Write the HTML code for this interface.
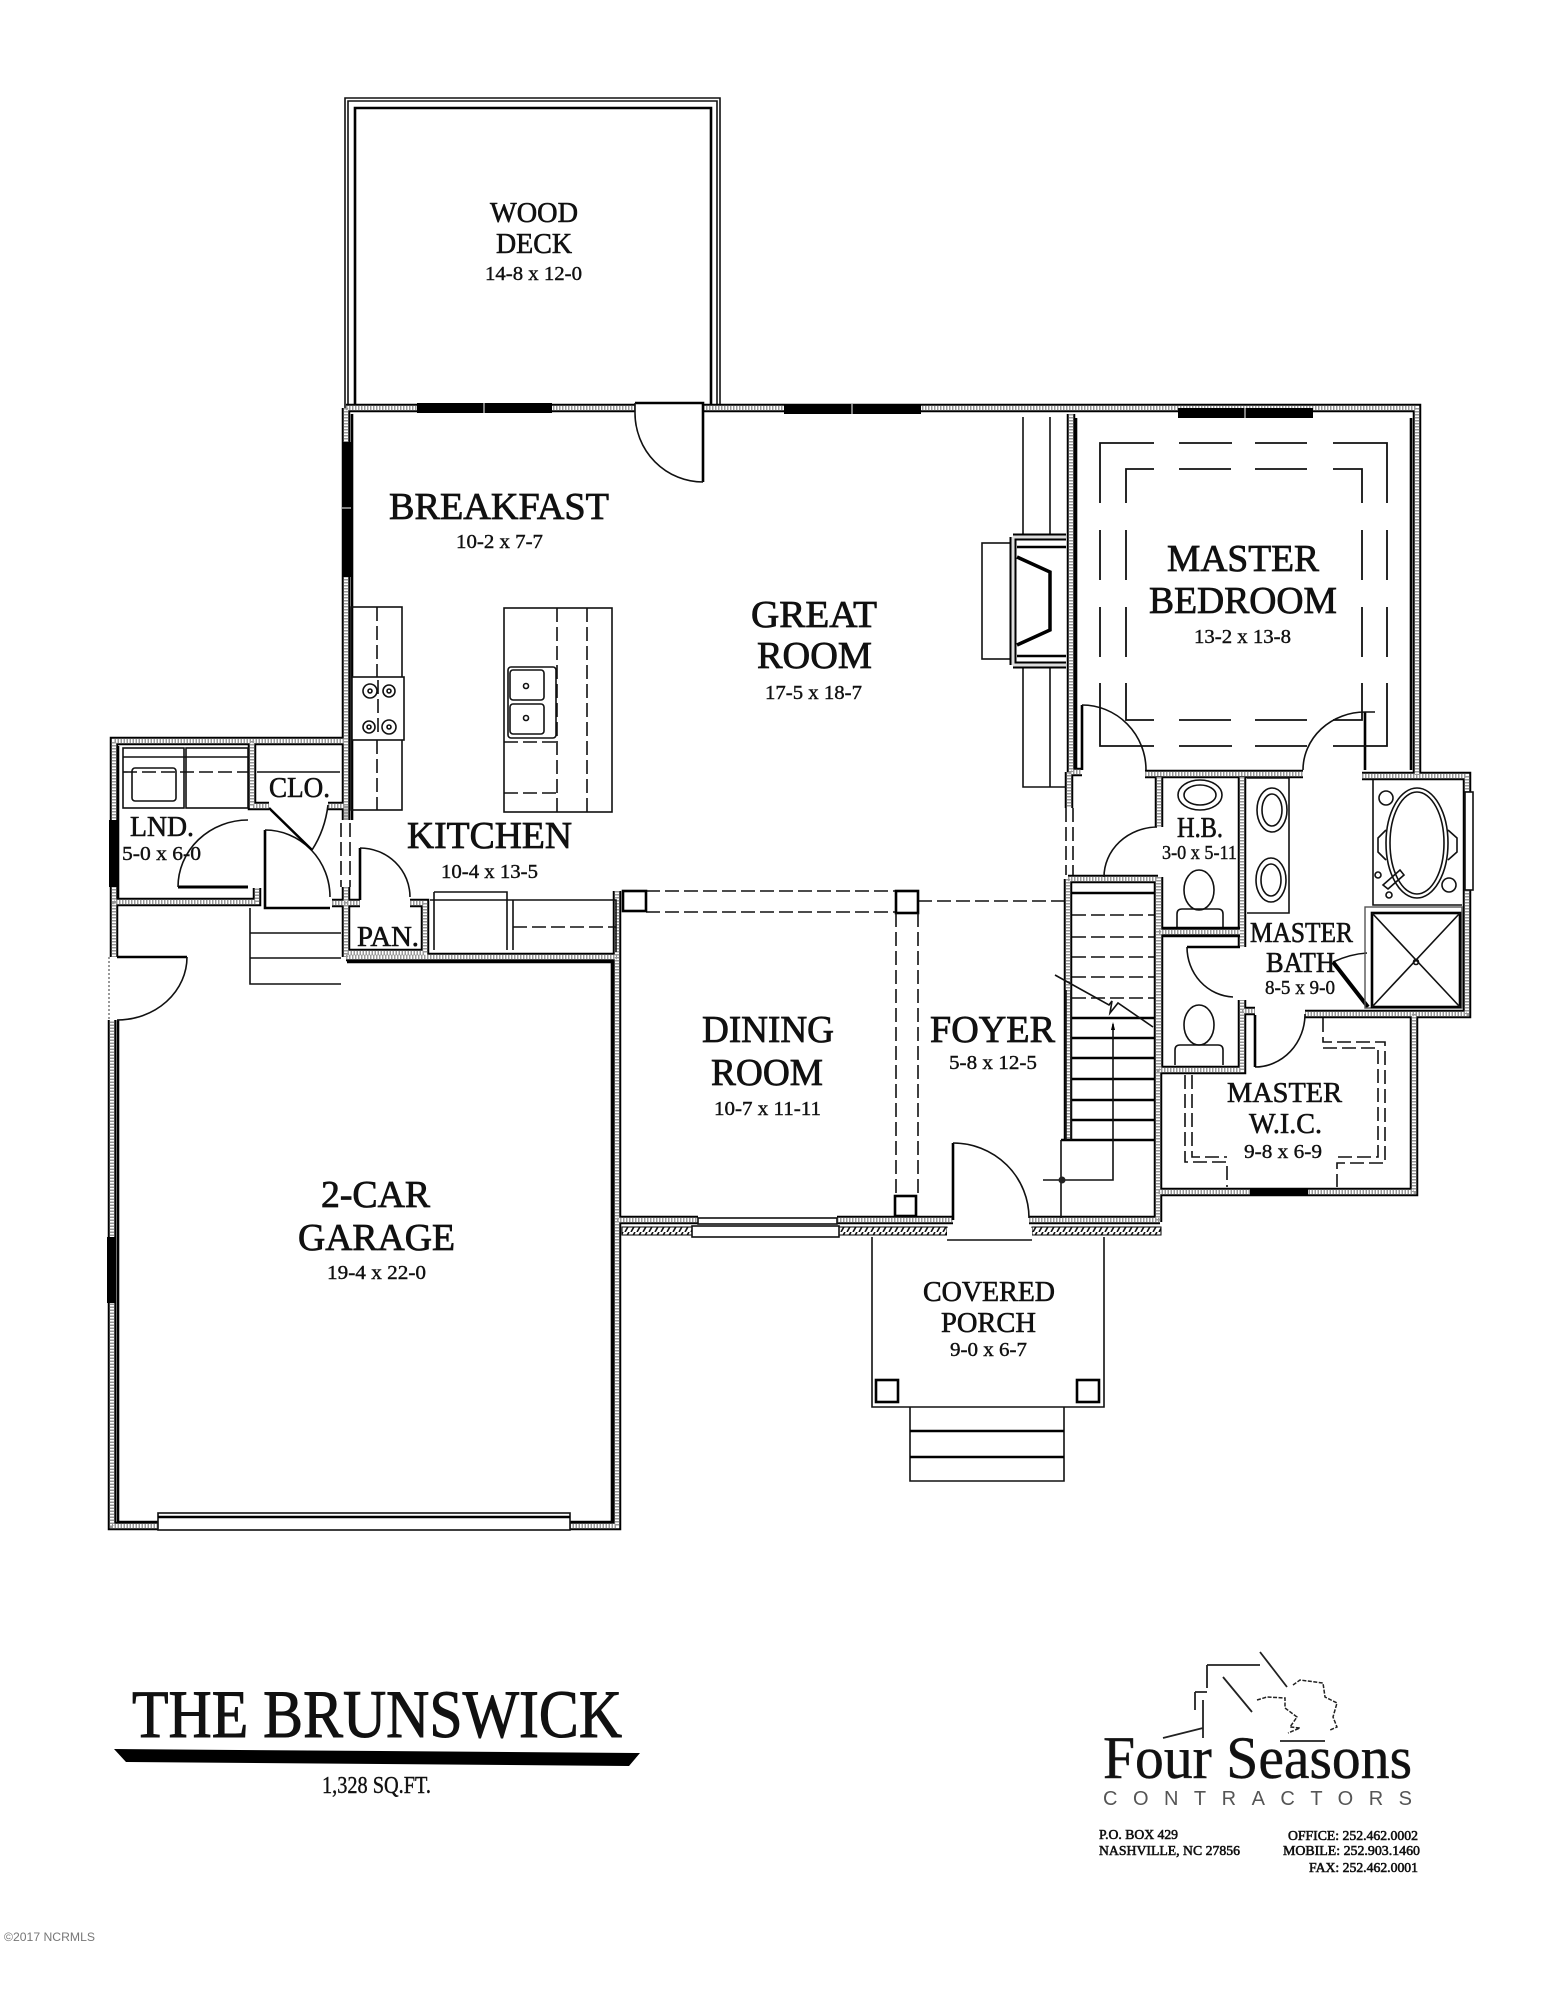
<!DOCTYPE html>
<html><head><meta charset="utf-8"><title>The Brunswick</title>
<style>
html,body{margin:0;padding:0;background:#fff}
svg{display:block}
text{font-family:"Liberation Serif",serif;fill:#111;font-weight:400}
.t{font-size:38px;stroke:#111;stroke-width:.8px}
.m{font-size:28px;stroke:#111;stroke-width:.6px}
.d{font-size:20px;stroke:#111;stroke-width:.4px}
.k{stroke:#000;fill:none;stroke-width:8.5}
.wh{stroke:#fff;fill:none;stroke-width:4.5}
.g{stroke:#999;fill:none;stroke-width:4.5;stroke-dasharray:1.5 1.5}
.th{stroke:#111;fill:none;stroke-width:1.6}
.th2{stroke:#000;fill:none;stroke-width:2.6}
.da{stroke:#111;fill:none;stroke-width:1.6;stroke-dasharray:14 5}
.tr{stroke:#111;fill:none;stroke-width:1.8}
.fb{fill:#fff;stroke:#111;stroke-width:1.6}
.thin{stroke:#333;fill:none;stroke-width:1}
</style></head><body>
<svg width="1546" height="1999" viewBox="0 0 1546 1999" xmlns="http://www.w3.org/2000/svg">
<defs>
<path id="w" d="M346 408H635M703 408H1417V775M1071 414V772H1082M1069 772V808M346 408V820M1145 774H1303M1362 776H1467V1014H1305M1414 1014V1192H1158M1158 877V1222M1068 879H1158M1068 879V1140M1159 777V827M1242 777V947M1159 932H1240M1159 877V1070H1242V1000M1242 1011H1255M344 741H114V902H257V888M252 741V806H269M328 806H346V820M332 903H360M346 887V957M114 902V957M346 957H617M410 903H425V953H346M617 891V1526H570M158 1526H112V1020M617 1220H698M837 1220H953M1029 1220H1160"/>
<pattern id="h" width="6" height="7" patternUnits="userSpaceOnUse"><path d="M5 0L1 7" stroke="#111" stroke-width="1.6"/></pattern>
</defs>

<!-- deck -->
<path d="M345 408V98H720V408" class="th"/>
<path d="M348 408V101H717V408" class="th"/>
<path d="M355 408V108H711V408" class="th2"/>

<!-- walls -->
<use href="#w" class="k"/>
<use href="#w" class="wh"/>
<use href="#w" class="g"/>

<!-- inner dark edges -->
<path d="M352 414V820M1076 418V768M1411 418V770M118 746V898M118 1020V1522H612V960M347 962H612" class="th2"/>

<!-- hatching at the front wall -->
<rect x="622" y="1227" width="72" height="8" fill="url(#h)" stroke="#000"/>
<rect x="839" y="1227" width="108" height="8" fill="url(#h)" stroke="#000"/>
<rect x="1032" y="1227" width="129" height="8" fill="url(#h)" stroke="#000"/>

<!-- windows -->
<rect x="417" y="403" width="135" height="10" fill="#000"/><path d="M484 403v10" stroke="#fff"/>
<rect x="784" y="404" width="137" height="10" fill="#000"/><path d="M852 404v10" stroke="#fff"/>
<rect x="1178" y="408" width="135" height="10" fill="#000"/><path d="M1245 408v10" stroke="#fff"/>
<rect x="342" y="442" width="9" height="135" fill="#000"/><path d="M342 508h9" stroke="#fff"/>
<rect x="109" y="820" width="8" height="67" fill="#000"/>
<rect x="107" y="1237" width="9" height="66" fill="#000"/>
<rect x="158" y="1513" width="412" height="17" class="fb"/><path d="M158 1517H570" class="th2"/>
<rect x="698" y="1218" width="139" height="6" class="fb"/><rect x="692" y="1226" width="147" height="11" class="fb"/>
<rect x="1250" y="1188" width="58" height="8" fill="#000"/>
<rect x="1465" y="792" width="8" height="98" class="fb"/>

<!-- doors -->
<path d="M635 403H703V482" class="th2"/><path d="M635 413V403" class="th"/><path d="M635 413A68 69 0 0 0 703 482" class="th"/>
<path d="M1082 705V770" class="th2"/><path d="M1082 705A64 65 0 0 1 1146 770" class="th"/>
<path d="M1365 712V770" class="th2"/><path d="M1375 712H1365A62 58 0 0 0 1303 770" class="th"/>
<path d="M1104 877A54 50 0 0 1 1157 827" class="th"/>
<path d="M1187 947H1240" class="th2"/><path d="M1187 947A48 50 0 0 0 1233 997" class="th"/>
<path d="M1305 1014A50 53 0 0 1 1255 1067" class="th"/><path d="M1255 1015V1067" class="th2"/>
<path d="M1333 962Q1350 954 1367 953" class="th"/><path d="M1333 962L1368 1007" stroke="#000" stroke-width="4"/>
<path d="M953 1143V1220" class="th2"/><path d="M953 1143A76 75 0 0 1 1029 1218" class="th"/>
<rect x="947" y="1228" width="85" height="12" fill="#fff" stroke="none"/><path d="M947 1240H1032" class="th"/>
<path d="M178 887H248" stroke="#000" stroke-width="3"/><path d="M178 887A70 67 0 0 1 248 820" class="th"/>
<path d="M265 830V908H330" class="th2"/><path d="M265 830A65 67 0 0 1 330 897" class="th"/>
<path d="M269 808L312 850" stroke="#000" stroke-width="2.5"/><path d="M312 850Q325 830 328 805" class="th"/>
<path d="M360 848V900" class="th2"/><path d="M360 848A50 49 0 0 1 410 897" class="th"/>
<path d="M117 957H187" class="th2"/><path d="M187 957A70 63 0 0 1 117 1020" class="th"/>
<path d="M109 957V1020" class="thin" stroke-dasharray="2 2"/>
<path d="M341 823V887M350 823V887M1066 808V875M1073 808V875" class="da"/>

<!-- laundry -->
<rect x="123" y="748" width="61" height="60" class="th"/><rect x="186" y="748" width="62" height="60" class="th"/>
<path d="M123 757H248" class="th"/><rect x="132" y="768" width="44" height="33" rx="3" class="th"/>
<path d="M123 772H248" class="da"/><path d="M257 772H340" class="th"/>
<path d="M250 908V984H341M250 933H341M250 958H341" class="th"/>

<!-- pantry + kitchen lower counter -->
<path d="M430 900H616V952M507 900V950M513 900V950" class="th"/><path d="M513 927H616" class="da"/>
<path d="M434 892H507V900M434 892V950" class="th"/>

<!-- kitchen upper counter -->
<rect x="351" y="607" width="51" height="203" class="th"/><path d="M377 607V810" class="da"/>
<rect x="352" y="677" width="52" height="63" class="fb"/><path d="M378 680V735" class="da"/>
<circle cx="370" cy="691" r="7" class="th"/><circle cx="389" cy="691" r="6" class="th"/><circle cx="369" cy="727" r="6" class="th"/><circle cx="389" cy="727" r="7" class="th"/>
<circle cx="370" cy="691" r="2" class="th"/><circle cx="389" cy="691" r="2" class="th"/><circle cx="369" cy="727" r="2" class="th"/><circle cx="389" cy="727" r="2" class="th"/>

<!-- island -->
<rect x="504" y="608" width="108" height="204" class="th"/>
<path d="M557 608V812M587 608V812" class="da"/>
<rect x="508" y="667" width="48" height="71" rx="3" class="th"/>
<rect x="510" y="670" width="34" height="30" rx="3" class="th"/><rect x="510" y="704" width="34" height="30" rx="3" class="th"/>
<circle cx="526" cy="686" r="2.5" class="th"/><circle cx="526" cy="718" r="2.5" class="th"/>
<path d="M504 742H557M504 793H557" class="da"/>

<!-- fireplace -->
<path d="M1023 417V537M1050 417V537M1023 665V787H1066M1050 665V787" class="th"/>
<rect x="982" y="543" width="31" height="116" class="th"/>
<path d="M1013 537H1066M1013 665H1066M1013 537V665" stroke="#000" stroke-width="7" fill="none"/>
<path d="M1013 537H1066M1013 665H1066M1013 537V665" stroke="#ddd" stroke-width="3" fill="none"/>
<path d="M1017 557L1050 572V630L1017 645" stroke="#000" stroke-width="3.5" fill="none"/>
<path d="M1017 547H1066M1017 656H1066" class="th2"/>

<!-- dining / foyer beam -->
<path d="M646 891H896M646 912H896M918 901H1064" class="da"/>
<rect x="623" y="891" width="23" height="20" class="th2"/>
<rect x="896" y="891" width="22" height="22" class="th2"/>
<path d="M896 913V1196M918 913V1196" class="da"/>
<rect x="895" y="1196" width="21" height="20" class="th2"/>

<!-- stairs -->
<path d="M1072 893H1154" class="th2"/>
<path d="M1072 915H1154M1072 937H1154M1072 957H1154M1072 977H1154M1072 998H1154" class="da"/>
<path d="M1071 1018H1154M1071 1038H1154M1071 1058H1154M1071 1079H1154M1071 1100H1154M1071 1120H1154M1061 1140H1154" class="th2"/>
<path d="M1066 990V1140M1071 990V1140" class="th"/>
<path d="M1061 1140V1218" class="th"/>
<path d="M1055 975L1109 1005L1112 1001L1110 1013L1118 1003L1153 1027" class="th"/>
<path d="M1113 1024V1180H1043" class="th"/><path d="M1113 1022l-2 8h4z" fill="#000"/><circle cx="1062" cy="1180" r="3.5" fill="#222"/>

<!-- half bath -->
<ellipse cx="1200" cy="795" rx="22" ry="15" class="th"/><ellipse cx="1200" cy="795" rx="16" ry="10" class="th"/>
<ellipse cx="1199" cy="890" rx="15" ry="20" class="th"/><path d="M1177 928V914Q1177 909 1182 909H1218Q1223 909 1223 914V928" class="th"/>
<path d="M1163 928H1240M1163 936H1240" class="th2"/>
<ellipse cx="1199" cy="1025" rx="15" ry="20" class="th"/><path d="M1175 1065V1050Q1175 1045 1180 1045H1218Q1223 1045 1223 1050V1065" class="th"/>

<!-- vanity -->
<path d="M1247 778H1289V913H1247" class="th"/>
<ellipse cx="1272" cy="810" rx="15" ry="22" class="th"/><ellipse cx="1272" cy="810" rx="10" ry="16" class="th"/>
<ellipse cx="1271" cy="880" rx="15" ry="22" class="th"/><ellipse cx="1271" cy="880" rx="10" ry="16" class="th"/>

<!-- tub -->
<path d="M1373 780V905H1462" class="th"/>
<ellipse cx="1417" cy="843" rx="31" ry="55" class="th"/><ellipse cx="1417" cy="843" rx="27" ry="51" class="th"/>
<circle cx="1386" cy="798" r="7" class="th"/><circle cx="1449" cy="885" r="7" class="th"/><circle cx="1378" cy="875" r="3" class="th"/><circle cx="1389" cy="895" r="3" class="th"/>
<path d="M1383 885L1400 870L1404 875L1388 889Z" class="th"/>
<path d="M1386 830L1378 838V852L1386 860M1448 830L1457 838V852L1448 860" class="th"/>

<!-- shower -->
<rect x="1365" y="907" width="97" height="101" fill="none" stroke="#555" stroke-width="1.4"/>
<rect x="1372" y="913" width="88" height="94" class="th2"/>
<path d="M1372 913L1460 1007M1460 913L1372 1007" class="th"/><circle cx="1416" cy="962" r="2.5" class="th"/>

<!-- WIC shelves -->
<path d="M1323 1018V1042H1385V1163H1337V1187M1323 1048H1378V1157H1337M1185 1075V1162H1227V1187M1192 1075V1157H1227" class="da"/>

<!-- master bedroom tray -->
<path class="tr" d="M1100 503V443H1154M1179 443H1232M1255 443H1307M1333 443H1387V503M1100 530V580M1387 530V580M1100 607V657M1387 607V657M1100 683V746H1154M1179 746H1232M1255 746H1307M1333 746H1387V683"/>
<path class="tr" d="M1126 503V469H1154M1179 469H1231M1255 469H1307M1333 469H1362V503M1126 530V580M1362 530V580M1126 607V657M1362 607V657M1126 683V720H1154M1179 720H1231M1255 720H1307M1333 720H1362V683"/>

<!-- porch -->
<path d="M872 1237V1407H1104V1237" class="th"/>
<rect x="876" y="1380" width="22" height="22" class="th2"/><rect x="1077" y="1380" width="22" height="22" class="th2"/>
<path d="M910 1407V1481H1064V1407" class="th"/><path d="M910 1431H1064M910 1457H1064" class="th2"/>

<!-- labels -->
<text x="490" y="222" class="m" textLength="88" lengthAdjust="spacingAndGlyphs">WOOD</text>
<text x="496" y="253" class="m" textLength="76" lengthAdjust="spacingAndGlyphs">DECK</text>
<text x="485" y="280" class="d" textLength="97" lengthAdjust="spacingAndGlyphs">14-8 x 12-0</text>

<text x="389" y="519" class="t" textLength="220" lengthAdjust="spacingAndGlyphs">BREAKFAST</text>
<text x="456" y="548" class="d" textLength="87" lengthAdjust="spacingAndGlyphs">10-2 x 7-7</text>
<text x="751" y="627" class="t" textLength="126" lengthAdjust="spacingAndGlyphs">GREAT</text>
<text x="757" y="668" class="t" textLength="115" lengthAdjust="spacingAndGlyphs">ROOM</text>
<text x="765" y="699" class="d" textLength="97" lengthAdjust="spacingAndGlyphs">17-5 x 18-7</text>
<text x="407" y="848" class="t" textLength="165" lengthAdjust="spacingAndGlyphs">KITCHEN</text>
<text x="441" y="878" class="d" textLength="97" lengthAdjust="spacingAndGlyphs">10-4 x 13-5</text>
<text x="130" y="836" class="m" textLength="64" lengthAdjust="spacingAndGlyphs">LND.</text>
<text x="122" y="860" class="d" textLength="79" lengthAdjust="spacingAndGlyphs">5-0 x 6-0</text>
<text x="269" y="797" class="m" textLength="61" lengthAdjust="spacingAndGlyphs">CLO.</text>
<text x="357" y="946" class="m" textLength="62" lengthAdjust="spacingAndGlyphs">PAN.</text>
<text x="1167" y="571" class="t" textLength="152" lengthAdjust="spacingAndGlyphs">MASTER</text>
<text x="1149" y="613" class="t" textLength="188" lengthAdjust="spacingAndGlyphs">BEDROOM</text>
<text x="1194" y="643" class="d" textLength="97" lengthAdjust="spacingAndGlyphs">13-2 x 13-8</text>
<text x="1177" y="837" class="m" textLength="46" lengthAdjust="spacingAndGlyphs">H.B.</text>
<text x="1162" y="859" class="d" textLength="75" lengthAdjust="spacingAndGlyphs">3-0 x 5-11</text>
<text x="1250" y="942" class="m" textLength="103" lengthAdjust="spacingAndGlyphs">MASTER</text>
<text x="1266" y="972" class="m" textLength="69" lengthAdjust="spacingAndGlyphs">BATH</text>
<text x="1265" y="994" class="d" textLength="70" lengthAdjust="spacingAndGlyphs">8-5 x 9-0</text>
<text x="1227" y="1102" class="m" textLength="115" lengthAdjust="spacingAndGlyphs">MASTER</text>
<text x="1249" y="1133" class="m" textLength="73" lengthAdjust="spacingAndGlyphs">W.I.C.</text>
<text x="1244" y="1158" class="d" textLength="78" lengthAdjust="spacingAndGlyphs">9-8 x 6-9</text>
<text x="702" y="1042" class="t" textLength="132" lengthAdjust="spacingAndGlyphs">DINING</text>
<text x="711" y="1085" class="t" textLength="112" lengthAdjust="spacingAndGlyphs">ROOM</text>
<text x="714" y="1115" class="d" textLength="107" lengthAdjust="spacingAndGlyphs">10-7 x 11-11</text>
<text x="930" y="1042" class="t" textLength="125" lengthAdjust="spacingAndGlyphs">FOYER</text>
<text x="949" y="1069" class="d" textLength="88" lengthAdjust="spacingAndGlyphs">5-8 x 12-5</text>
<text x="923" y="1301" class="m" textLength="132" lengthAdjust="spacingAndGlyphs">COVERED</text>
<text x="941" y="1332" class="m" textLength="95" lengthAdjust="spacingAndGlyphs">PORCH</text>
<text x="950" y="1356" class="d" textLength="77" lengthAdjust="spacingAndGlyphs">9-0 x 6-7</text>
<text x="321" y="1207" class="t" textLength="109" lengthAdjust="spacingAndGlyphs">2-CAR</text>
<text x="298" y="1250" class="t" textLength="157" lengthAdjust="spacingAndGlyphs">GARAGE</text>
<text x="327" y="1279" class="d" textLength="99" lengthAdjust="spacingAndGlyphs">19-4 x 22-0</text>

<!-- title -->
<text x="132" y="1737" font-size="68" textLength="490" lengthAdjust="spacingAndGlyphs" stroke="#111" stroke-width="1">THE BRUNSWICK</text>
<path d="M114 1749L640 1753L629 1766L126 1762Z" fill="#000"/>
<text x="322" y="1793" font-size="24" textLength="109" lengthAdjust="spacingAndGlyphs" stroke="#111" stroke-width=".4">1,328 SQ.FT.</text>
<text x="4" y="1941" style="font-family:'Liberation Sans',sans-serif;fill:#777" font-size="12" textLength="91" lengthAdjust="spacingAndGlyphs">©2017 NCRMLS</text>

<!-- logo -->
<g fill="none" stroke="#222">
<path d="M1260 1652L1287 1687M1207 1665H1260M1207 1665V1688M1223 1677L1252 1712M1195 1692H1207M1195 1692V1710M1203 1700V1738M1163 1738L1203 1728M1280 1741H1325" stroke-width="1.8"/>
<path d="M1293 1685L1300 1680L1323 1683L1325 1697L1337 1703L1333 1717L1337 1727L1330 1730M1257 1700L1267 1697L1285 1698L1285 1708L1297 1717L1290 1727L1300 1728L1288 1733" stroke-width="1.5" stroke-dasharray="4 1.5"/>
</g>
<text x="1103" y="1778" font-size="60" textLength="309" lengthAdjust="spacingAndGlyphs" fill="#222" stroke="#222" stroke-width=".5">Four Seasons</text>
<text x="1103" y="1805" style="font-family:'Liberation Sans',sans-serif;fill:#555" font-size="20" textLength="309">CONTRACTORS</text>
<g font-size="14" stroke="#111" stroke-width=".6">
<text x="1099" y="1839" textLength="79" lengthAdjust="spacingAndGlyphs">P.O. BOX 429</text>
<text x="1099" y="1855" textLength="141" lengthAdjust="spacingAndGlyphs">NASHVILLE, NC 27856</text>
<text x="1288" y="1840" textLength="130" lengthAdjust="spacingAndGlyphs">OFFICE: 252.462.0002</text>
<text x="1283" y="1855" textLength="137" lengthAdjust="spacingAndGlyphs">MOBILE: 252.903.1460</text>
<text x="1309" y="1872" textLength="109" lengthAdjust="spacingAndGlyphs">FAX: 252.462.0001</text>
</g>
</svg>
</body></html>
